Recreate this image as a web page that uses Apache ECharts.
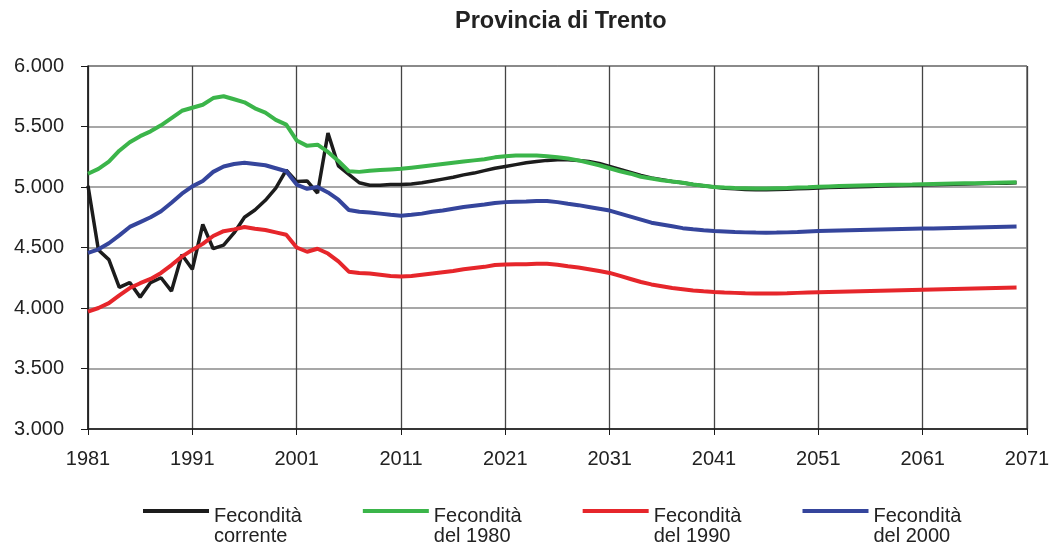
<!DOCTYPE html>
<html>
<head>
<meta charset="utf-8">
<script src="https://cdn.jsdelivr.net/npm/echarts@6/dist/echarts.min.js"></script>
<style>
  html, body { margin: 0; padding: 0; background: #fff; }
  #chart { width: 1059px; height: 548px; }
</style>
</head>
<body>
<div id="chart"></div>
<script>
var firstYear = 1981
var years = []
for (var y = 1981; y <= 2070; y++) years.push(y)

// Fecondità corrente
var corrente = [
  5010, 4480, 4400, 4170, 4210, 4090, 4210, 4250, 4140, 4440,
  4320, 4690, 4490, 4520, 4620, 4750, 4810, 4890, 4990, 5140,
  5045, 5050, 4950, 5445, 5175, 5105, 5035, 5015, 5015, 5020,
  5020, 5025, 5035, 5050, 5065, 5080, 5100, 5115, 5135, 5155,
  5170, 5185, 5200, 5210, 5220, 5225, 5225, 5220, 5210, 5195,
  5170, 5145, 5120, 5095, 5075, 5060, 5045, 5035, 5020, 5010,
  5000, 4990, 4985, 4980, 4978, 4978, 4980, 4982, 4985, 4988,
  4992, 4995, 4998, 5000, 5003, 5005, 5008, 5010, 5012, 5014,
  5016, 5018, 5020, 5022, 5024, 5026, 5028, 5030, 5032, 5035
]
// Fecondità del 1980
var del1980 = [
  5110, 5150, 5210, 5300, 5370, 5420, 5460, 5510, 5570, 5630,
  5655, 5680, 5735, 5750, 5725, 5700, 5650, 5615, 5555, 5515,
  5385, 5340, 5350, 5290, 5215, 5130, 5125, 5135, 5140, 5145,
  5150, 5160, 5170, 5180, 5190, 5200, 5210, 5220, 5230, 5245,
  5255, 5260, 5260, 5260, 5255, 5245, 5235, 5220, 5200, 5180,
  5155, 5130, 5110, 5085, 5070, 5055, 5045, 5035, 5020, 5010,
  5000, 4995, 4992, 4990, 4988, 4988, 4990, 4992, 4995, 4998,
  5002, 5005, 5008, 5010, 5012, 5014, 5016, 5018, 5019, 5020,
  5022, 5024, 5026, 5028, 5030, 5032, 5034, 5036, 5038, 5040
]
// Fecondità del 1990
var del1990 = [
  3970, 4000, 4040, 4105, 4165, 4205, 4240, 4290, 4355, 4425,
  4480, 4530, 4595, 4635, 4650, 4670, 4655, 4645, 4625, 4605,
  4500, 4465, 4490, 4450, 4385, 4300, 4290, 4285, 4275, 4265,
  4260, 4265, 4275, 4285, 4295, 4305, 4320, 4330, 4340, 4355,
  4360, 4362, 4362, 4365, 4365, 4358, 4345, 4335, 4320, 4305,
  4290, 4265, 4240, 4215, 4195, 4180, 4165, 4155, 4145, 4138,
  4132, 4128, 4125, 4122, 4120, 4119, 4120, 4122, 4125, 4128,
  4131, 4133, 4135, 4137, 4139, 4141, 4143, 4145, 4147, 4149,
  4151, 4153, 4155, 4157, 4159, 4161, 4163, 4165, 4167, 4169
]
// Fecondità del 2000
var del2000 = [
  4455, 4485, 4535, 4600, 4670, 4710, 4750, 4800, 4870, 4945,
  5005, 5050, 5125, 5170, 5190, 5200, 5190, 5180, 5155, 5130,
  5020, 4985, 5000, 4955, 4895, 4810, 4795, 4790, 4780, 4770,
  4763, 4770, 4780, 4795, 4805, 4820, 4835, 4845, 4855, 4868,
  4875, 4878, 4880, 4885, 4885, 4875, 4862, 4850, 4835, 4820,
  4805, 4780, 4755, 4730, 4705, 4690, 4675, 4660, 4650, 4642,
  4636, 4632, 4628, 4625, 4623, 4622, 4623, 4625, 4628, 4632,
  4636, 4638, 4640, 4642, 4644, 4646, 4648, 4650, 4652, 4654,
  4656, 4658, 4660, 4662, 4664, 4666, 4668, 4670, 4672, 4674
]

var names = ['Fecondità\ncorrente', 'Fecondità\ndel 1980', 'Fecondità\ndel 1990', 'Fecondità\ndel 2000']
var colors = ['#1c1c1c', '#3bb54a', '#e6262b', '#35459c']

function pairs (vals) {
  return vals.map(function (v, i) { return [years[i] - firstYear, v] })
}

var font = 'Liberation Sans, Arial, sans-serif'
var allData = [corrente, del1980, del1990, del2000]

// legend line sits at the top of the icon box, so it lines up with the first text row
var legendIcon = 'path://M0,0L66,0L66,4L0,4Z M0,34L0.01,34'

var option = {
  animation: false,
  title: {
    text: 'Provincia di Trento',
    left: 450,
    top: 5,
    textStyle: { fontFamily: font, fontSize: 23.5, fontWeight: 'bold', color: '#222' }
  },
  legend: {
    left: 138,
    top: 501,
    icon: legendIcon,
    itemWidth: 66,
    itemHeight: 34,
    itemGap: 61,
    itemStyle: { borderWidth: 0 },
    textStyle: { fontFamily: font, fontSize: 20, color: '#222', lineHeight: 20 },
    data: names
  },
  grid: {
    left: 88, right: 32, top: 66, bottom: 119,
    show: true, borderColor: '#1a1a1a', borderWidth: 1
  },
  xAxis: {
    type: 'value',
    min: 0,
    max: 90,
    interval: 10,
    axisLine: { show: true, lineStyle: { color: '#1a1a1a', width: 1.5 } },
    axisTick: { show: true, length: 6, lineStyle: { color: '#1a1a1a' } },
    axisLabel: {
      margin: 20, fontFamily: font, fontSize: 20, color: '#222',
      formatter: function (v) { return String(v + firstYear) }
    },
    splitLine: { show: true, lineStyle: { color: '#444', width: 1.3 } }
  },
  yAxis: {
    type: 'value',
    min: 3000,
    max: 6000,
    interval: 500,
    axisLine: { show: true, lineStyle: { color: '#1a1a1a', width: 1.5 } },
    axisTick: { show: true, length: 7, lineStyle: { color: '#1a1a1a' } },
    axisLabel: {
      margin: 24, fontFamily: font, fontSize: 20, color: '#222',
      formatter: function (v) { return (v / 1000).toFixed(3) }
    },
    splitLine: { show: true, lineStyle: { color: '#8a8a8a', width: 1.5 } }
  },
  series: names.map(function (n, i) {
    return {
      name: n,
      type: 'line',
      symbol: 'none',
      data: pairs(allData[i]),
      itemStyle: { color: colors[i] },
      lineStyle: { color: colors[i], width: i === 0 ? 3.5 : 4 }
    }
  })
}

var myChart = echarts.init(document.getElementById('chart'))
myChart.setOption(option)
</script>
</body>
</html>
